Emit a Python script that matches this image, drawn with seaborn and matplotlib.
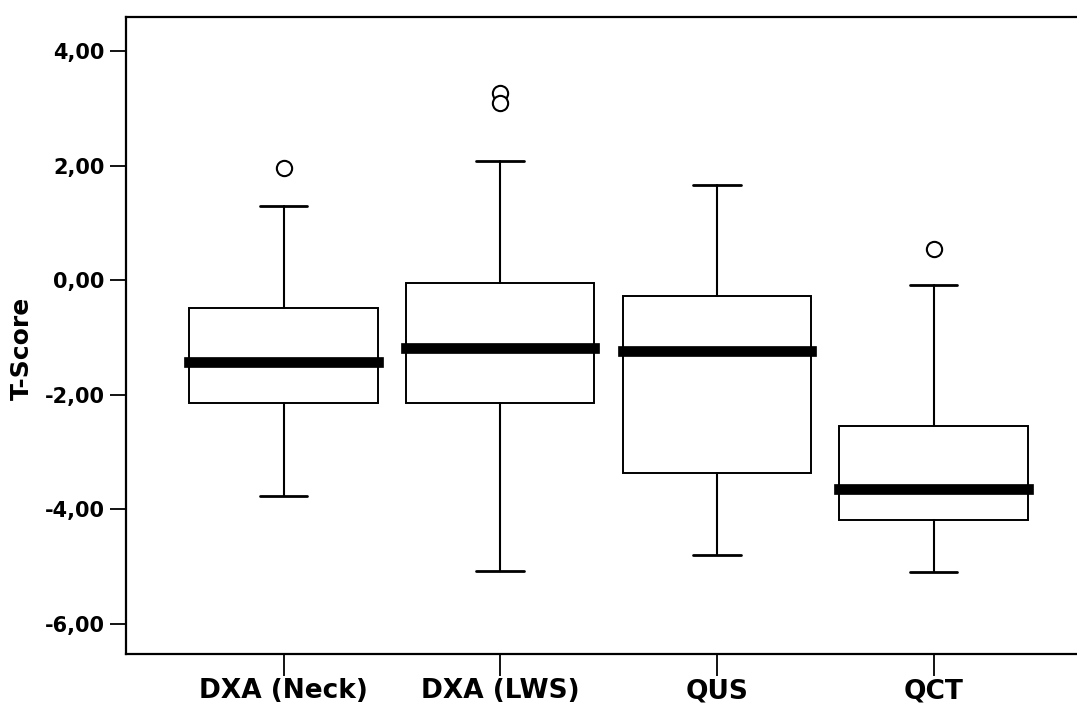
# T-Score boxplot per measuring method (SPSS style)

import numpy as np
import matplotlib
matplotlib.use('Agg')
import matplotlib.pyplot as plt
import seaborn as sns

# values
methods = ['DXA (Neck)', 'DXA (LWS)', 'QUS', 'QCT']
medians = [-1.43, -1.19, -1.23, -3.64]
q1 = [-2.14, -2.14, -3.36, -4.19]
q3 = [-0.48, -0.05, -0.27, -2.54]
whisker_low = [-3.76, -5.07, -4.79, -5.10]
whisker_high = [1.30, 2.09, 1.67, -0.08]
outliers = [[1.96], [3.27, 3.09], [], [0.54]]
yticks = [4, 2, 0, -2, -4, -6]


def build_stats():
    stats = []
    for i in range(len(methods)):
        stats.append({
            'label': methods[i],
            'med': medians[i],
            'q1': q1[i],
            'q3': q3[i],
            'whislo': whisker_low[i],
            'whishi': whisker_high[i],
            'fliers': outliers[i],
        })
    return stats


def main():
    sns.set_style('ticks')
    plt.rcParams['font.family'] = ['DejaVu Sans']

    fig = plt.figure(figsize=(10.77, 7.06), dpi=100)
    ax = fig.add_axes([0.117, 0.0737, 0.883, 0.9026])

    ax.bxp(build_stats(), positions=np.arange(len(methods)), widths=0.87,
           patch_artist=True, manage_ticks=False,
           boxprops=dict(facecolor='white', edgecolor='black', linewidth=1.4),
           medianprops=dict(color='black', linewidth=7.7, solid_capstyle='projecting'),
           whiskerprops=dict(color='black', linewidth=1.5),
           capprops=dict(color='black', linewidth=2.0),
           capwidths=0.22,
           flierprops=dict(marker='o', markersize=11, markerfacecolor='white',
                           markeredgecolor='black', markeredgewidth=1.5))

    ax.set_xlim(-0.727, 3.662)
    ax.set_ylim(-6.525, 4.60)

    ax.set_xticks(np.arange(len(methods)))
    ax.set_xticklabels(methods, fontsize=19, fontweight='bold')
    ax.set_yticks(yticks)
    ax.set_yticklabels([f'{v:.2f}'.replace('.', ',') for v in yticks],
                       fontsize=15, fontweight='bold')
    ax.tick_params(axis='y', length=11.5, width=1.3, pad=4, colors='black')
    ax.tick_params(axis='x', length=15.5, width=1.3, pad=2, colors='black')

    ax.set_ylabel('T-Score', fontsize=18, fontweight='bold', color='black')
    ax.yaxis.set_label_coords(-0.097, 0.48)
    ax.set_xlabel('')

    for side in ['left', 'top', 'bottom']:
        ax.spines[side].set_color('black')
        ax.spines[side].set_linewidth(1.6)
    ax.spines['right'].set_visible(False)

    fig.savefig('out.png', dpi=100)
    plt.close()


if __name__ == '__main__':
    main()
